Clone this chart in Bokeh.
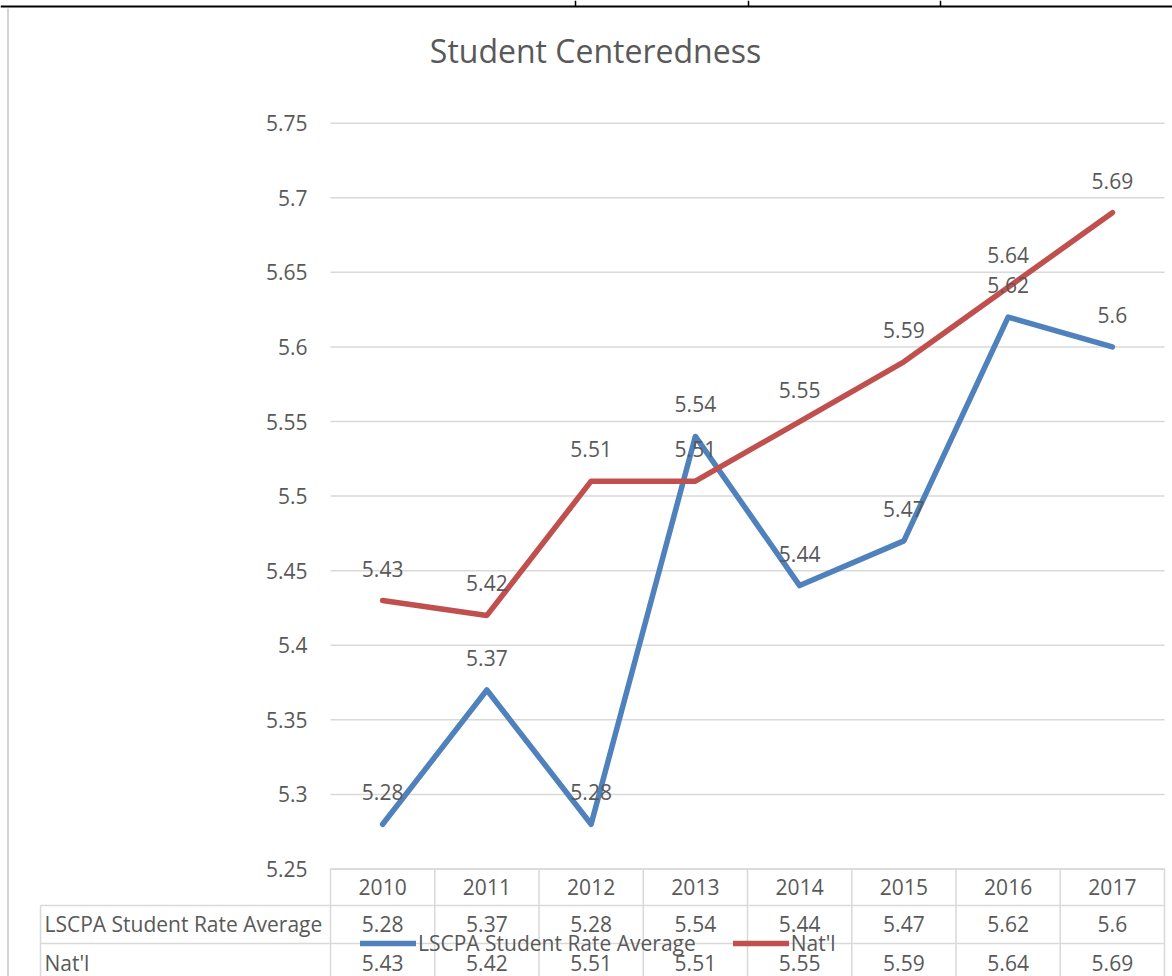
from bokeh.plotting import figure
from bokeh.models import Range1d, Legend, LegendItem
from bokeh.core.properties import value
from bokeh.embed import file_html
from bokeh.resources import INLINE

# ---------------- data ----------------
title_text = "Student Centeredness"
years = ["2010", "2011", "2012", "2013", "2014", "2015", "2016", "2017"]
lscpa = [5.28, 5.37, 5.28, 5.54, 5.44, 5.47, 5.62, 5.60]
natl = [5.43, 5.42, 5.51, 5.51, 5.55, 5.59, 5.64, 5.69]
series_names = ["LSCPA Student Rate Average", "Nat'l"]
y_ticks = [5.25, 5.30, 5.35, 5.40, 5.45, 5.50, 5.55, 5.60, 5.65, 5.70, 5.75]
y_tick_labels = ["5.25", "5.3", "5.35", "5.4", "5.45", "5.5", "5.55", "5.6", "5.65", "5.7", "5.75"]

# ---------------- layout (pixels within figure) ----------------
W, H = 1172, 976
PLOT_L, PLOT_R = 330.0, 1164.0
PLOT_T, PLOT_B = 122.7, 868.5
YMIN, YMAX = y_ticks[0], y_ticks[-1]
ncat = len(years)
cat_w = (PLOT_R - PLOT_L) / ncat
ppu = (PLOT_B - PLOT_T) / (YMAX - YMIN)
x0 = -0.5 - PLOT_L / cat_w
x1 = -0.5 + (W - PLOT_L) / cat_w
y1 = YMAX + PLOT_T / ppu
y0 = YMIN - (H - PLOT_B) / ppu


def xd(px):
    return x0 + px / cat_w


def yd(py):
    return y1 - py / ppu


BLUE = "#4F81BD"
RED = "#C0504D"
TXT = "#595959"
GRID = "#D9D9D9"
FONT = value("Open Sans")
FS = value("21px")

p = figure(width=W, height=H, x_range=Range1d(x0, x1), y_range=Range1d(y0, y1),
           x_axis_type=None, y_axis_type=None, toolbar_location=None,
           output_backend="svg", min_border=0)
p.outline_line_color = None
p.background_fill_color = "white"
p.border_fill_color = "white"

idx = list(range(ncat))

# document frame around the chart
p.segment(x0=[x0], x1=[x1], y0=[yd(6)], y1=[yd(6)], line_color="black", line_width=2)
vdoc = [xd(575), xd(748), xd(940)]
p.segment(x0=vdoc, x1=vdoc, y0=[yd(0)] * 3, y1=[yd(6)] * 3, line_color="black", line_width=1.5)
p.segment(x0=[xd(7.5)], x1=[xd(7.5)], y0=[yd(8)], y1=[y0], line_color="#D4D4D4", line_width=2)

# title
p.text(x=[xd(595)], y=[yd(50)], text=[title_text], text_font=FONT, text_font_size=value("32px"),
       text_color=TXT, text_align="center", text_baseline="middle")

# gridlines
p.segment(x0=[-0.5] * len(y_ticks), x1=[ncat - 0.5] * len(y_ticks), y0=y_ticks, y1=y_ticks,
          line_color=GRID, line_width=1.5)

# y tick labels
p.text(x=[xd(307)] * len(y_ticks), y=y_ticks, text=y_tick_labels, text_font=FONT, text_font_size=FS,
       text_color=TXT, text_align="right", text_baseline="middle")

# data table
row_top = [PLOT_B, 905.0, 943.0]
p.segment(x0=[-0.5], x1=[ncat - 0.5], y0=[yd(row_top[0])], y1=[yd(row_top[0])], line_color=GRID, line_width=1.5)
p.segment(x0=[xd(40)] * 2, x1=[ncat - 0.5] * 2, y0=[yd(row_top[1]), yd(row_top[2])],
          y1=[yd(row_top[1]), yd(row_top[2])], line_color=GRID, line_width=1.5)
vx = [i - 0.5 for i in range(ncat + 1)]
p.segment(x0=vx, x1=vx, y0=[yd(row_top[0])] * len(vx), y1=[y0] * len(vx), line_color=GRID, line_width=1.5)
p.segment(x0=[xd(40)], x1=[xd(40)], y0=[yd(row_top[1])], y1=[y0], line_color=GRID, line_width=1.5)

p.text(x=idx, y=[yd(886.5)] * ncat, text=years, text_font=FONT, text_font_size=FS, text_color=TXT,
       text_align="center", text_baseline="middle")
p.text(x=[xd(44)] * 2, y=[yd(923), yd(962)], text=series_names, text_font=FONT, text_font_size=FS,
       text_color=TXT, text_align="left", text_baseline="middle")
p.text(x=idx, y=[yd(923)] * ncat, text=[f"{v:g}" for v in lscpa], text_font=FONT, text_font_size=FS,
       text_color=TXT, text_align="center", text_baseline="middle")
p.text(x=idx, y=[yd(962)] * ncat, text=[f"{v:g}" for v in natl], text_font=FONT, text_font_size=FS,
       text_color=TXT, text_align="center", text_baseline="middle")

# series lines
r_blue = p.line(idx, lscpa, line_color=BLUE, line_width=5.5, line_cap="round", line_join="round")
r_red = p.line(idx, natl, line_color=RED, line_width=5.5, line_cap="round", line_join="round")

# data labels
p.text(x=idx, y=lscpa, text=[f"{v:g}" for v in lscpa], y_offset=-32, text_font=FONT, text_font_size=FS,
       text_color=TXT, text_align="center", text_baseline="middle")
p.text(x=idx, y=natl, text=[f"{v:g}" for v in natl], y_offset=-32, text_font=FONT, text_font_size=FS,
       text_color=TXT, text_align="center", text_baseline="middle")

legend = Legend(items=[LegendItem(label=series_names[0], renderers=[r_blue]),
                       LegendItem(label=series_names[1], renderers=[r_red])],
                orientation="horizontal", location=(360, 19), padding=0, margin=0, spacing=37,
                glyph_width=56, glyph_height=28, label_standoff=2,
                label_text_font="Open Sans", label_text_font_size="21px", label_text_color=TXT,
                background_fill_alpha=0, border_line_alpha=0)
p.add_layout(legend)

open("out.html", "w").write(file_html(p, INLINE))
